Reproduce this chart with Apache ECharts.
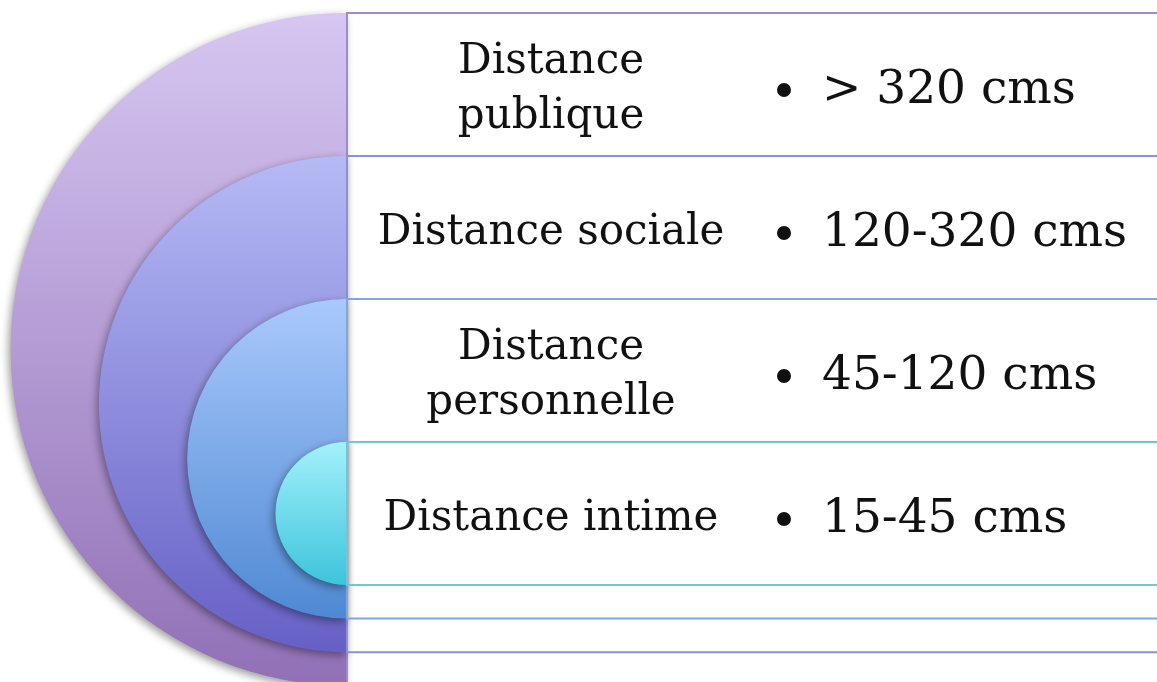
<!DOCTYPE html>
<html>
<head>
<meta charset="utf-8">
<script src="https://cdn.jsdelivr.net/npm/echarts@6/dist/echarts.min.js"></script>
<style>
html,body{margin:0;padding:0;background:#fff;}
#chart{width:1157px;height:682px;}
</style>
</head>
<body>
<div id="chart"></div>
<script>
// ---- data ----
const categories = ['Distance publique', 'Distance sociale', 'Distance personnelle', 'Distance intime'];
const rowLabels = ['Distance\npublique', 'Distance sociale', 'Distance\npersonnelle', 'Distance intime'];
const rangeLabels = ['> 320 cms', '120-320 cms', '45-120 cms', '15-45 cms'];
const bandTop = [0, 1, 2, 3];               // nested band start (row units)
const bandBottom = [4.705, 4.47, 4.235, 4]; // nested band end (row units)

// ---- styles ----
const discTopColor = ['#d6c6f1', '#b5baf5', '#a9c9fc', '#a3f1fb'];
const discBottomColor = ['#9170b6', '#6660c5', '#4f89d3', '#3dc4db'];
const lineColor = ['#a08bca', '#8b90d8', '#80a6e2', '#6cc6dc'];

const chart = echarts.init(document.getElementById('chart'), null, {renderer: 'canvas'});

function renderItem(params, api) {
  const i = api.value(0);
  const top = api.value(1);
  const bot = api.value(2);
  const pTop = api.coord([0, top]);
  const pBot = api.coord([1, bot]);
  const cx = pTop[0];
  const cy = (pTop[1] + pBot[1]) / 2;
  const r = (pBot[1] - pTop[1]) / 2;
  const rowMid = api.coord([0, top + 0.5])[1];
  const xLabel = api.coord([0.2519, 0])[0];
  const xBullet = api.coord([0.5395, 0])[0];
  const xRange = api.coord([0.5864, 0])[0];
  return {
    type: 'group',
    children: [
      {
        type: 'sector',
        shape: {cx: cx, cy: cy, r: r, r0: 0, startAngle: Math.PI / 2, endAngle: Math.PI * 1.5, clockwise: true},
        style: {
          fill: new echarts.graphic.LinearGradient(0, 0, 0, 1, [
            {offset: 0, color: discTopColor[i]},
            {offset: 1, color: discBottomColor[i]}
          ]),
          shadowBlur: 8,
          shadowColor: 'rgba(0,0,0,0.4)',
          shadowOffsetX: -2,
          shadowOffsetY: 3
        }
      },
      {
        type: 'rect',
        shape: {x: pTop[0], y: pTop[1], width: pBot[0] - pTop[0] + 100, height: pBot[1] - pTop[1]},
        style: {fill: 'none', stroke: lineColor[i], lineWidth: 2}
      },
      {
        type: 'text',
        style: {
          text: rowLabels[i], x: xLabel, y: rowMid + 5.5,
          fill: '#111', fontSize: 42, fontFamily: 'DejaVu Serif',
          align: 'center', verticalAlign: 'middle', lineHeight: 55
        }
      },
      {
        type: 'circle',
        shape: {cx: xBullet, cy: rowMid + 5.5, r: 7},
        style: {fill: '#111'}
      },
      {
        type: 'text',
        style: {
          text: rangeLabels[i], x: xRange, y: rowMid + 6,
          fill: '#111', fontSize: 47, fontFamily: 'DejaVu Serif',
          align: 'left', verticalAlign: 'middle'
        }
      }
    ]
  };
}

chart.setOption({
  animation: false,
  backgroundColor: '#fff',
  grid: {left: 347, right: 0, top: 13, bottom: 0, containLabel: false},
  xAxis: {type: 'value', min: 0, max: 1, show: false},
  yAxis: {type: 'value', min: 0, max: 669 / 143, inverse: true, show: false},
  series: [{
    type: 'custom',
    name: 'Distances',
    clip: false,
    renderItem: renderItem,
    encode: {x: 0, y: 1},
    data: categories.map((c, i) => ({name: c, value: [i, bandTop[i], bandBottom[i]]}))
  }]
});
</script>
</body>
</html>
